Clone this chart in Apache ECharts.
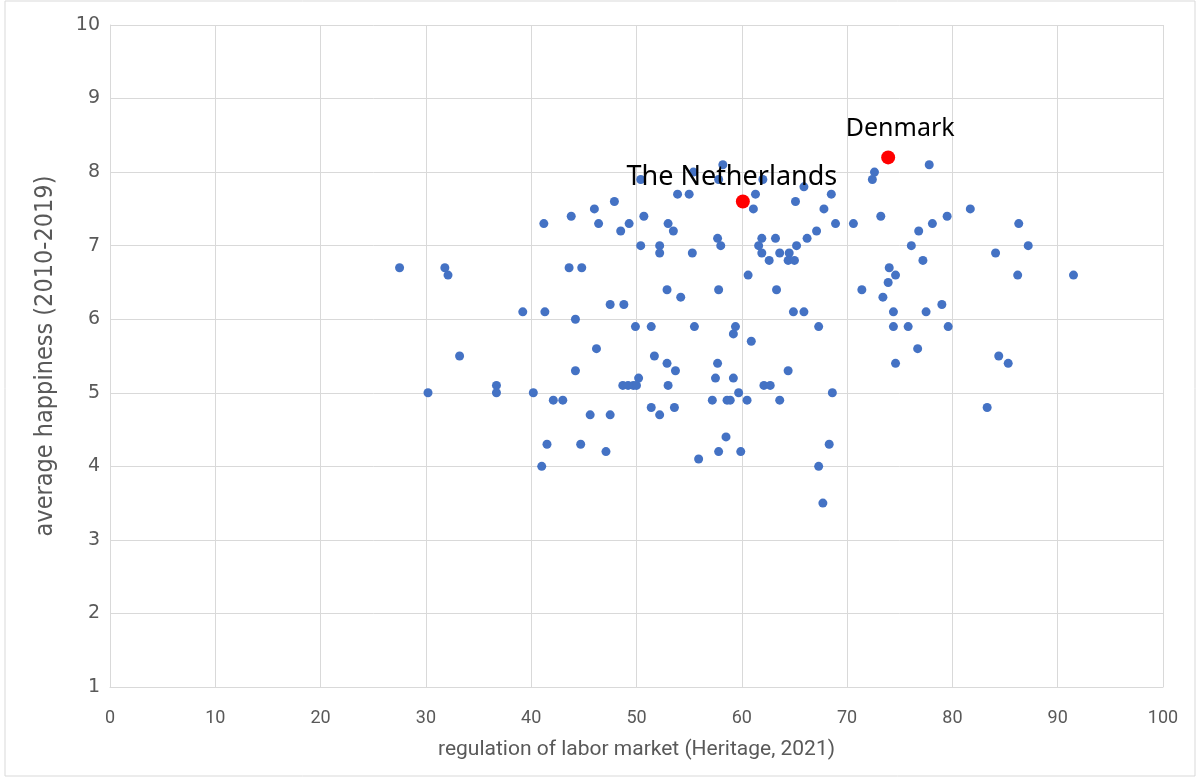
<!DOCTYPE html>
<html>
<head>
<meta charset="utf-8">
<title>Happiness vs labor market regulation</title>
<script src="https://cdn.jsdelivr.net/npm/echarts@6/dist/echarts.min.js"></script>
<style>
  html, body { margin: 0; padding: 0; background: #fff; }
  #chart { width: 1201px; height: 780px; }
</style>
</head>
<body>
<div id="chart"></div>
<script>
// regulation of labor market (x) and average happiness (y), one pair per country
const regulation = [
  27.5, 30.2, 31.8, 32.1, 33.2, 36.7, 36.7, 39.2, 40.2, 41.0,
  41.2, 41.3, 41.5, 42.1, 43.0, 43.6, 43.8, 44.2, 44.2, 44.7,
  44.8, 45.6, 46.0, 46.2, 46.4, 47.1, 47.5, 47.5, 47.9, 48.5,
  48.8, 48.7, 49.3, 49.2, 49.7, 49.9, 50.0, 50.2, 50.4, 50.4,
  50.7, 51.4, 51.4, 51.7, 52.2, 52.2, 52.2, 52.9, 52.9, 53.0,
  53.0, 53.5, 53.6, 53.7, 53.9, 54.2, 55.0, 55.3, 55.5, 55.9,
  55.4, 57.2, 57.5, 57.7, 57.7, 57.8, 57.8, 57.8, 58.0, 58.2,
  58.5, 58.6, 58.9, 59.2, 59.2, 59.4, 59.7, 59.9, 60.5, 60.6,
  60.9, 61.1, 61.3, 61.6, 61.9, 61.9, 62.0, 62.1, 62.6, 62.7,
  63.2, 63.3, 63.6, 63.6, 64.4, 64.5, 64.4, 65.0, 64.9, 65.1,
  65.2, 65.9, 65.9, 66.2, 67.1, 67.3, 67.3, 67.7, 67.8, 68.3,
  68.5, 68.6, 68.9, 70.6, 71.4, 72.4, 72.6, 73.2, 73.4, 73.9,
  74.0, 74.4, 74.4, 74.6, 74.6, 75.8, 76.1, 76.7, 76.8, 77.2,
  77.5, 77.8, 78.1, 79.0, 79.5, 79.6, 81.7, 83.3, 84.1, 84.4,
  85.3, 86.2, 86.3, 87.2, 91.5
];
const happiness = [
  6.7, 5.0, 6.7, 6.6, 5.5, 5.1, 5.0, 6.1, 5.0, 4.0,
  7.3, 6.1, 4.3, 4.9, 4.9, 6.7, 7.4, 6.0, 5.3, 4.3,
  6.7, 4.7, 7.5, 5.6, 7.3, 4.2, 6.2, 4.7, 7.6, 7.2,
  6.2, 5.1, 7.3, 5.1, 5.1, 5.9, 5.1, 5.2, 7.0, 7.9,
  7.4, 4.8, 5.9, 5.5, 4.7, 7.0, 6.9, 6.4, 5.4, 7.3,
  5.1, 7.2, 4.8, 5.3, 7.7, 6.3, 7.7, 6.9, 5.9, 4.1,
  8.0, 4.9, 5.2, 5.4, 7.1, 7.9, 6.4, 4.2, 7.0, 8.1,
  4.4, 4.9, 4.9, 5.2, 5.8, 5.9, 5.0, 4.2, 4.9, 6.6,
  5.7, 7.5, 7.7, 7.0, 7.1, 6.9, 7.9, 5.1, 6.8, 5.1,
  7.1, 6.4, 6.9, 4.9, 5.3, 6.9, 6.8, 6.8, 6.1, 7.6,
  7.0, 7.8, 6.1, 7.1, 7.2, 5.9, 4.0, 3.5, 7.5, 4.3,
  7.7, 5.0, 7.3, 7.3, 6.4, 7.9, 8.0, 7.4, 6.3, 6.5,
  6.7, 6.1, 5.9, 6.6, 5.4, 5.9, 7.0, 5.6, 7.2, 6.8,
  6.1, 8.1, 7.3, 6.2, 7.4, 5.9, 7.5, 4.8, 6.9, 5.5,
  5.4, 6.6, 7.3, 7.0, 6.6
];

// highlighted countries
const highlightNames = ["Denmark", "The Netherlands"];
const highlightRegulation = [73.9, 60.1];
const highlightHappiness = [8.2, 7.6];

const xTicks = { min: 0, max: 100, interval: 10 };
const yTicks = { min: 1, max: 10, interval: 1 };

const chart = echarts.init(document.getElementById("chart"));

const pointData = regulation.map((x, i) => [x, happiness[i]]);

// label offsets relative to the point centre (text centre)
const labelOffsets = [[12, -29], [-11, -24]];
const highlightData = highlightNames.map((name, i) => ({
  name: name,
  value: [highlightRegulation[i], highlightHappiness[i]],
  label: { offset: labelOffsets[i], fontSize: i === 0 ? 25 : 27 },
}));

const option = {
  animation: false,
  backgroundColor: "#fff",
  grid: {
    left: 110,
    right: 38,
    top: 25,
    bottom: 93,
    containLabel: false,
  },
  xAxis: {
    type: "value",
    min: xTicks.min,
    max: xTicks.max,
    interval: xTicks.interval,
    name: "regulation of labor market (Heritage, 2021)",
    nameLocation: "middle",
    nameGap: 52,
    nameTextStyle: {
      color: "#595959",
      fontSize: 21,
      fontFamily: "Liberation Sans Narrow, Roboto, sans-serif",
    },
    axisLine: { show: true, lineStyle: { color: "#d9d9d9", width: 1 } },
    axisTick: { show: false },
    axisLabel: {
      color: "#595959",
      fontSize: 18,
      margin: 22,
      fontFamily: "Liberation Sans Narrow, Roboto, sans-serif",
    },
    splitLine: { show: true, lineStyle: { color: "#d9d9d9", width: 1 } },
  },
  yAxis: {
    type: "value",
    min: yTicks.min,
    max: yTicks.max,
    interval: yTicks.interval,
    name: "average happiness (2010-2019)",
    nameLocation: "middle",
    nameGap: 52,
    nameTextStyle: {
      color: "#595959",
      fontSize: 25,
      fontFamily: "DejaVu Sans Condensed, DejaVu Sans, sans-serif",
    },
    axisLine: { show: true, lineStyle: { color: "#d9d9d9", width: 1 } },
    axisTick: { show: false },
    axisLabel: {
      color: "#595959",
      fontSize: 19,
      margin: 10,
      fontFamily: "DejaVu Sans, sans-serif",
    },
    splitLine: { show: true, lineStyle: { color: "#d9d9d9", width: 1 } },
  },
  graphic: [
    {
      type: "rect",
      shape: { x: 5, y: 1, width: 1190, height: 775 },
      style: { fill: "none", stroke: "#d9d9d9", lineWidth: 1 },
      silent: true,
    },
  ],
  series: [
    {
      type: "scatter",
      symbol: "circle",
      symbolSize: 9,
      itemStyle: { color: "#4472c4", opacity: 1 },
      data: pointData,
    },
    {
      type: "scatter",
      symbol: "circle",
      symbolSize: 14,
      itemStyle: { color: "#ff0000", opacity: 1 },
      label: {
        show: true,
        position: "inside",
        formatter: (p) => p.name,
        color: "#000",
        fontSize: 27,
        fontFamily: "Noto Sans, sans-serif",
      },
      data: highlightData,
      z: 3,
    },
  ],
};

chart.setOption(option);
</script>
</body>
</html>
